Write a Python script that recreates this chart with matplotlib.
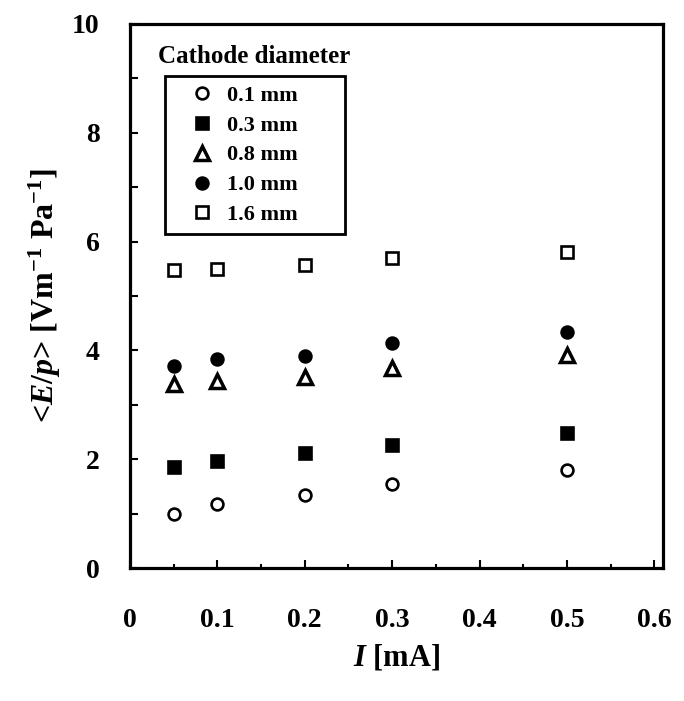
import matplotlib
matplotlib.use("Agg")
import matplotlib.pyplot as plt
from matplotlib.ticker import MultipleLocator

plt.rcParams['font.family'] = ['Liberation Serif', 'DejaVu Serif']
plt.rcParams['font.weight'] = 'bold'
plt.rcParams['axes.labelweight'] = 'bold'
plt.rcParams['mathtext.fontset'] = 'custom'
plt.rcParams['mathtext.rm'] = 'Liberation Serif:bold'
plt.rcParams['mathtext.it'] = 'Liberation Serif:italic:bold'
plt.rcParams['mathtext.bf'] = 'Liberation Serif:bold'

# data
current = [0.05, 0.1, 0.2, 0.3, 0.5]
ep_01 = [1.00, 1.17, 1.35, 1.54, 1.80]
ep_03 = [1.85, 1.97, 2.12, 2.27, 2.49]
ep_08 = [3.39, 3.44, 3.52, 3.68, 3.92]
ep_10 = [3.72, 3.84, 3.90, 4.13, 4.34]
ep_16 = [5.48, 5.50, 5.57, 5.69, 5.81]
labels = ['0.1 mm', '0.3 mm', '0.8 mm', '1.0 mm', '1.6 mm']

fig = plt.figure(figsize=(6.84, 7.01), dpi=100)
ax = fig.add_axes([130 / 684, 1 - 568 / 701, 533 / 684, 544 / 701])

mew = 1.9
ax.plot(current, ep_01, 'o', ms=8.5, mfc='white', mec='black', mew=mew, label=labels[0])
ax.plot(current, ep_03, 's', ms=8.5, mfc='black', mec='black', mew=mew, label=labels[1])
ax.plot(current, ep_08, '^', ms=10, mfc='white', mec='black', mew=2.5, label=labels[2])
ax.plot(current, ep_10, 'o', ms=8.5, mfc='black', mec='black', mew=mew, label=labels[3])
ax.plot(current, ep_16, 's', ms=8.5, mfc='white', mec='black', mew=mew, label=labels[4])

ax.set_xlim(0, 0.61)
ax.set_ylim(0, 10)
ax.xaxis.set_major_locator(MultipleLocator(0.1))
ax.xaxis.set_minor_locator(MultipleLocator(0.05))
ax.yaxis.set_major_locator(MultipleLocator(2))
ax.yaxis.set_minor_locator(MultipleLocator(1))
ax.xaxis.set_major_formatter(plt.FuncFormatter(lambda v, p: '0' if abs(v) < 1e-9 else f'{v:.1f}'))

ax.tick_params(axis='both', which='both', direction='in', top=False, right=False, width=1.5)
ax.tick_params(axis='x', which='major', length=6, pad=29, labelsize=20)
ax.tick_params(axis='x', which='minor', length=3)
ax.tick_params(axis='y', which='major', length=6, pad=22, labelsize=20)
ax.tick_params(axis='y', which='minor', length=6)

for sp in ax.spines.values():
    sp.set_linewidth(2.3)

ax.set_xlabel('$I$ [mA]', fontsize=22, labelpad=7)
ax.set_ylabel('<$E/p$> [Vm$^{-1}$ Pa$^{-1}$]', fontsize=23, labelpad=6)

ax.text(0.053, 0.941, 'Cathode diameter', transform=ax.transAxes,
        fontsize=18, fontweight='bold', ha='left', va='center')
leg = ax.legend(loc='upper left', bbox_to_anchor=(0.066, 0.5, 0.338, 0.404), mode='expand',
                fancybox=False, edgecolor='black', framealpha=1, fontsize=16,
                handletextpad=-0.1, labelspacing=0.42, borderpad=0.4,
                handlelength=2.5, borderaxespad=0)
leg.get_frame().set_linewidth(2.0)
for t in leg.get_texts():
    t.set_fontweight('bold')

fig.savefig('out.png', dpi=100)
